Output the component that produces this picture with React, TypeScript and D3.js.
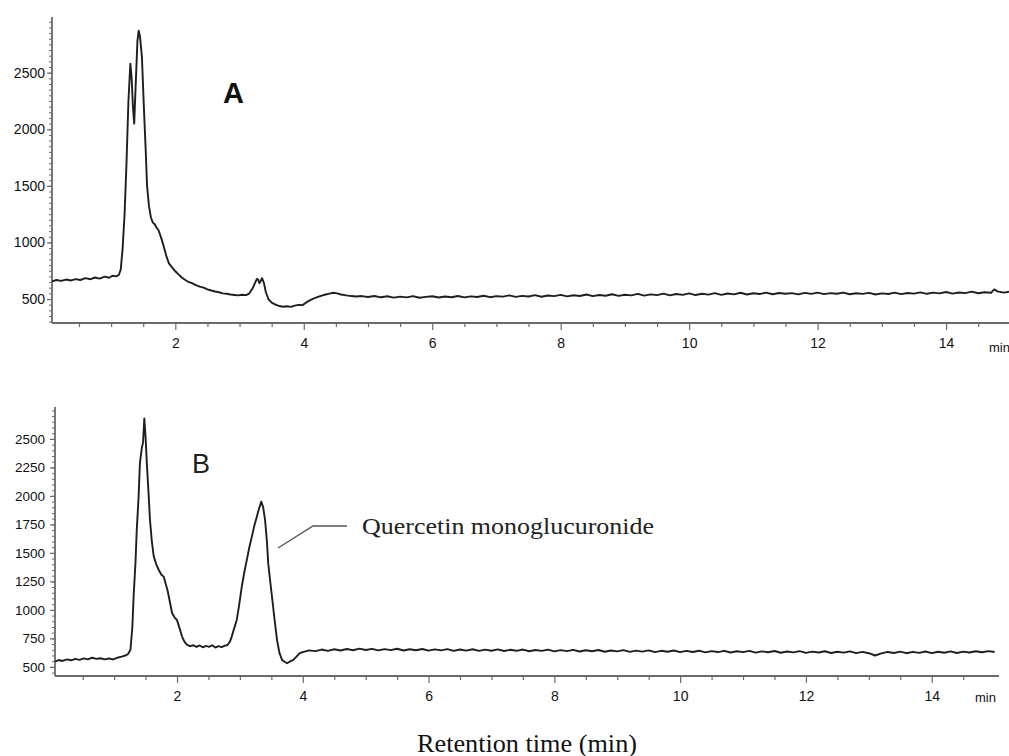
import React, { useRef, useEffect } from 'react';
import * as d3 from 'd3';

// chromatogram A: [retention time (min), response]
const traceA: [number, number][] = [
  [0.08, 655], [0.15, 668], [0.22, 660], [0.3, 672], [0.38, 664], [0.45, 676], [0.52, 668], [0.6, 684],
  [0.68, 675], [0.75, 690], [0.82, 680], [0.9, 698], [0.97, 688], [1.02, 705], [1.08, 700], [1.12, 712],
  [1.15, 760], [1.18, 950], [1.21, 1250], [1.24, 1700], [1.27, 2250], [1.3, 2580], [1.32, 2450], [1.34, 2200],
  [1.36, 2050], [1.38, 2350], [1.41, 2780], [1.43, 2870], [1.45, 2820], [1.48, 2640], [1.51, 2200], [1.54, 1800],
  [1.56, 1500], [1.59, 1320], [1.62, 1220], [1.65, 1175], [1.68, 1160], [1.71, 1130], [1.74, 1105], [1.78, 1040],
  [1.82, 965], [1.86, 880], [1.9, 815], [1.95, 780], [2.0, 745], [2.05, 718], [2.1, 690], [2.15, 670],
  [2.2, 652], [2.26, 640], [2.32, 622], [2.38, 610], [2.44, 600], [2.5, 585], [2.56, 575], [2.62, 566],
  [2.68, 560], [2.74, 550], [2.8, 546], [2.86, 540], [2.92, 536], [2.98, 532], [3.04, 538], [3.1, 534],
  [3.15, 548], [3.2, 590], [3.24, 640], [3.27, 678], [3.29, 672], [3.31, 640], [3.33, 660], [3.35, 684],
  [3.38, 640], [3.41, 560], [3.45, 498], [3.5, 468], [3.56, 450], [3.62, 438], [3.68, 432], [3.74, 436],
  [3.8, 430], [3.86, 442], [3.92, 448], [3.98, 446], [4.04, 470], [4.1, 490], [4.16, 505], [4.22, 518],
  [4.28, 530], [4.34, 540], [4.4, 548], [4.46, 555], [4.52, 550], [4.58, 540], [4.66, 532], [4.74, 526],
  [4.82, 522], [4.9, 526], [5.0, 518], [5.1, 527], [5.2, 515], [5.3, 524], [5.4, 512], [5.5, 521],
  [5.6, 514], [5.7, 526], [5.8, 511], [5.9, 519], [6.0, 524], [6.1, 513], [6.2, 522], [6.3, 516],
  [6.4, 527], [6.5, 514], [6.6, 523], [6.7, 518], [6.8, 529], [6.9, 516], [7.0, 525], [7.1, 521],
  [7.2, 532], [7.3, 519], [7.4, 528], [7.5, 522], [7.6, 534], [7.7, 520], [7.8, 531], [7.9, 525],
  [8.0, 536], [8.1, 523], [8.2, 533], [8.3, 527], [8.4, 540], [8.5, 526], [8.6, 535], [8.7, 529],
  [8.8, 542], [8.9, 528], [9.0, 538], [9.1, 532], [9.2, 545], [9.3, 530], [9.4, 541], [9.5, 534],
  [9.6, 547], [9.7, 532], [9.8, 544], [9.9, 537], [10.0, 550], [10.1, 535], [10.2, 546], [10.3, 539],
  [10.4, 552], [10.5, 537], [10.6, 549], [10.7, 541], [10.8, 555], [10.9, 540], [11.0, 551], [11.1, 544],
  [11.2, 556], [11.3, 542], [11.4, 553], [11.5, 546], [11.6, 552], [11.7, 541], [11.8, 554], [11.9, 545],
  [12.0, 556], [12.1, 543], [12.2, 552], [12.3, 546], [12.4, 557], [12.5, 542], [12.6, 551], [12.7, 545],
  [12.8, 554], [12.9, 540], [13.0, 550], [13.1, 544], [13.2, 556], [13.3, 543], [13.4, 553], [13.5, 548],
  [13.6, 559], [13.7, 546], [13.8, 556], [13.9, 550], [14.0, 562], [14.1, 548], [14.2, 558], [14.3, 552],
  [14.4, 565], [14.5, 551], [14.6, 560], [14.7, 555], [14.75, 585], [14.8, 568], [14.9, 556], [14.98, 564],
];

// chromatogram B
const traceB: [number, number][] = [
  [0.06, 548], [0.12, 560], [0.18, 552], [0.25, 566], [0.32, 558], [0.38, 570], [0.45, 562], [0.52, 574],
  [0.58, 566], [0.65, 580], [0.72, 570], [0.78, 576], [0.85, 566], [0.92, 574], [0.98, 565], [1.05, 580],
  [1.12, 590], [1.18, 600], [1.22, 612], [1.26, 650], [1.29, 850], [1.31, 1117], [1.34, 1420], [1.36, 1702],
  [1.39, 2000], [1.41, 2287], [1.44, 2420], [1.46, 2470], [1.48, 2680], [1.5, 2520], [1.52, 2290], [1.55, 2000],
  [1.57, 1790], [1.6, 1600], [1.63, 1470], [1.67, 1400], [1.71, 1350], [1.75, 1310], [1.79, 1290], [1.82, 1230],
  [1.85, 1170], [1.89, 1060], [1.92, 975], [1.96, 935], [2.0, 910], [2.04, 840], [2.08, 766], [2.12, 720],
  [2.16, 693], [2.21, 682], [2.26, 690], [2.31, 675], [2.36, 688], [2.41, 672], [2.46, 684], [2.51, 676],
  [2.56, 690], [2.61, 670], [2.66, 682], [2.71, 674], [2.76, 686], [2.8, 690], [2.84, 720], [2.87, 766],
  [2.91, 840], [2.95, 912], [2.99, 1050], [3.03, 1204], [3.07, 1330], [3.11, 1439], [3.15, 1550], [3.19, 1643],
  [3.23, 1740], [3.27, 1819], [3.3, 1880], [3.34, 1950], [3.37, 1900], [3.4, 1789], [3.43, 1600], [3.45, 1410],
  [3.48, 1260], [3.51, 1117], [3.55, 920], [3.59, 737], [3.63, 620], [3.67, 561], [3.71, 545], [3.75, 532],
  [3.8, 548], [3.85, 561], [3.9, 590], [3.95, 620], [4.0, 630], [4.1, 645], [4.2, 638], [4.3, 652],
  [4.4, 641], [4.5, 655], [4.6, 644], [4.7, 657], [4.8, 646], [4.9, 660], [5.0, 648], [5.1, 658],
  [5.2, 645], [5.3, 656], [5.4, 647], [5.5, 659], [5.6, 644], [5.7, 655], [5.8, 646], [5.9, 657],
  [6.0, 643], [6.1, 654], [6.2, 645], [6.3, 656], [6.4, 641], [6.5, 652], [6.6, 643], [6.7, 655],
  [6.8, 640], [6.9, 651], [7.0, 642], [7.1, 653], [7.2, 639], [7.3, 650], [7.4, 641], [7.5, 652],
  [7.6, 637], [7.7, 648], [7.8, 640], [7.9, 651], [8.0, 636], [8.1, 647], [8.2, 638], [8.3, 649],
  [8.4, 635], [8.5, 646], [8.6, 637], [8.7, 648], [8.8, 633], [8.9, 644], [9.0, 636], [9.1, 647],
  [9.2, 632], [9.3, 643], [9.4, 634], [9.5, 645], [9.6, 630], [9.7, 641], [9.8, 633], [9.9, 644],
  [10.0, 629], [10.1, 640], [10.2, 631], [10.3, 642], [10.4, 627], [10.5, 638], [10.6, 630], [10.7, 641],
  [10.8, 626], [10.9, 637], [11.0, 629], [11.1, 640], [11.2, 625], [11.3, 636], [11.4, 628], [11.5, 639],
  [11.6, 624], [11.7, 635], [11.8, 627], [11.9, 638], [12.0, 623], [12.1, 634], [12.2, 626], [12.3, 637],
  [12.4, 622], [12.5, 633], [12.6, 625], [12.7, 636], [12.8, 621], [12.9, 632], [13.0, 620], [13.1, 600],
  [13.2, 618], [13.3, 631], [13.4, 622], [13.5, 634], [13.6, 620], [13.7, 632], [13.8, 623], [13.9, 635],
  [14.0, 621], [14.1, 633], [14.2, 624], [14.3, 636], [14.4, 622], [14.5, 634], [14.6, 626], [14.7, 637],
  [14.8, 628], [14.9, 638], [15.0, 630],
];

const xMajorTicks = [2, 4, 6, 8, 10, 12, 14];
const xMinorTicks = [0.5, 1, 1.5, 2.5, 3, 3.5, 4.5, 5, 5.5, 6.5, 7, 7.5, 8.5, 9, 9.5, 10.5, 11, 11.5, 12.5, 13, 13.5, 14.5];
const yMajorTicksA = [500, 1000, 1500, 2000, 2500];
const yMajorTicksB = [500, 750, 1000, 1250, 1500, 1750, 2000, 2250, 2500];
const yMinorTicksA = d3.range(300, 2951, 50);
const yMinorTicksB = d3.range(450, 2751, 50);

const AXIS = '#6a6a6a';
const LINE = '#1e1e1e';
const SANS = '"Liberation Sans", Arial, sans-serif';
const SERIF = '"Liberation Serif", "Times New Roman", serif';

const Chromatogram = () => {
  const ref = useRef<SVGSVGElement>(null);

  useEffect(() => {
    const svg = d3.select(ref.current);
    svg.selectAll('*').remove();

    const panels = [
      {
        data: traceA,
        x: d3.scaleLinear().domain([0.08, 14.98]).range([52, 1009]),
        y: d3.scaleLinear().domain([288, 2992]).range([323, 17]),
        yMajor: yMajorTicksA, yMinor: yMinorTicksA,
        yFont: 14, yPad: 2, minX: 989, minY: 352,
      },
      {
        data: traceB,
        x: d3.scaleLinear().domain([0.06, 15.07]).range([55, 999]),
        y: d3.scaleLinear().domain([420, 2780]).range([676, 407]),
        yMajor: yMajorTicksB, yMinor: yMinorTicksB,
        yFont: 13.5, yPad: 5, minX: 975, minY: 702,
      },
    ];

    panels.forEach(p => {
      const [x0, x1] = p.x.range();
      const [yb, yt] = p.y.range();

      // x axis: minor then major ticks
      svg.append('g')
        .attr('transform', `translate(0,${yb})`)
        .call(d3.axisBottom(p.x).tickValues(xMinorTicks).tickSize(4).tickSizeOuter(0).tickFormat(() => ''))
        .call(g => g.select('.domain').remove())
        .selectAll('line').attr('stroke', AXIS).attr('stroke-width', 1.2);

      const xg = svg.append('g')
        .attr('transform', `translate(0,${yb})`)
        .call(d3.axisBottom(p.x).tickValues(xMajorTicks).tickSize(7).tickPadding(8).tickSizeOuter(0).tickFormat(d3.format('d')));
      xg.select('.domain').remove();
      xg.selectAll('line').attr('stroke', AXIS).attr('stroke-width', 1.2);
      xg.selectAll('text').attr('fill', '#111').style('font-family', SANS).style('font-size', '14px');

      // y axis
      svg.append('g')
        .attr('transform', `translate(${x0},0)`)
        .call(d3.axisLeft(p.y).tickValues(p.yMinor).tickSize(3).tickSizeOuter(0).tickFormat(() => ''))
        .call(g => g.select('.domain').remove())
        .selectAll('line').attr('stroke', AXIS).attr('stroke-width', 1);

      const yg = svg.append('g')
        .attr('transform', `translate(${x0},0)`)
        .call(d3.axisLeft(p.y).tickValues(p.yMajor).tickSize(5).tickPadding(p.yPad).tickSizeOuter(0).tickFormat(d3.format('d')));
      yg.select('.domain').remove();
      yg.selectAll('line').attr('stroke', AXIS).attr('stroke-width', 1.2);
      yg.selectAll('text').attr('fill', '#111').style('font-family', SANS).style('font-size', `${p.yFont}px`);

      // axis frame lines
      svg.append('line')
        .attr('x1', x0).attr('x2', x1).attr('y1', yb).attr('y2', yb)
        .attr('stroke', AXIS).attr('stroke-width', 1.8);
      svg.append('line')
        .attr('x1', x0).attr('x2', x0).attr('y1', yt).attr('y2', yb)
        .attr('stroke', AXIS).attr('stroke-width', 1.8);

      svg.append('text')
        .attr('x', p.minX).attr('y', p.minY)
        .style('font-family', SANS).style('font-size', '13px').attr('fill', '#111')
        .text('min');

      // trace
      const line = d3.line<[number, number]>()
        .x(d => p.x(d[0]))
        .y(d => p.y(d[1]));
      svg.append('path')
        .datum(p.data)
        .attr('d', line)
        .attr('fill', 'none')
        .attr('stroke', LINE)
        .attr('stroke-width', 1.9)
        .attr('stroke-linejoin', 'round');
    });

    // panel labels
    svg.append('text')
      .attr('x', 223).attr('y', 103)
      .style('font-family', SANS).style('font-size', '29px').style('font-weight', 'bold')
      .attr('fill', '#111').text('A');
    svg.append('text')
      .attr('x', 192).attr('y', 473)
      .style('font-family', SANS).style('font-size', '27px')
      .attr('fill', '#222').text('B');

    // annotation with leader line
    svg.append('path')
      .attr('d', 'M278,548 L313,526 L347,526')
      .attr('fill', 'none').attr('stroke', '#555').attr('stroke-width', 1.4);
    svg.append('text')
      .attr('x', 362).attr('y', 534)
      .attr('textLength', 292).attr('lengthAdjust', 'spacingAndGlyphs')
      .style('font-family', SERIF).style('font-size', '23px')
      .attr('fill', '#222').text('Quercetin monoglucuronide');

    // x axis title
    svg.append('text')
      .attr('x', 417).attr('y', 752)
      .attr('textLength', 220).attr('lengthAdjust', 'spacingAndGlyphs')
      .style('font-family', SERIF).style('font-size', '25px')
      .attr('fill', '#111').text('Retention time (min)');
  }, []);

  return <svg ref={ref} width={1009} height={756} style={{ position: 'absolute', left: 0, top: 0, background: '#fff' }} />;
};

export default function App() {
  return <Chromatogram />;
}
